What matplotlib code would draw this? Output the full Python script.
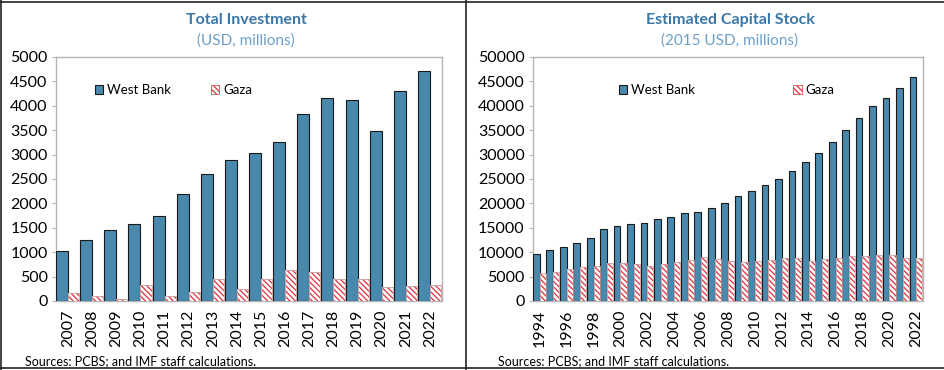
import matplotlib
matplotlib.use('Agg')
import matplotlib.pyplot as plt
from matplotlib.lines import Line2D
import numpy as np

plt.rcParams['font.family'] = ['Lato', 'DejaVu Sans']
plt.rcParams['hatch.linewidth'] = 0.9

# Total investment (USD, millions)
anos_inv = list(range(2007, 2023))
inv_west_bank = [1025, 1250, 1448, 1578, 1749, 2186, 2602, 2889, 3040, 3258,
                 3832, 4160, 4119, 3477, 4296, 4706]
inv_gaza = [171, 109, 41, 321, 109, 191, 451, 253, 451, 628,
            587, 451, 451, 287, 307, 328]

# Estimated capital stock (2015 USD, millions)
anos_cap = list(range(1994, 2023))
cap_west_bank = [9690, 10370, 10980, 11870, 12960, 14730, 15350, 15830, 16030, 16710,
                 17260, 17940, 18210, 19030, 19990, 21490, 22510, 23670, 24970, 26670,
                 28450, 30420, 32610, 35060, 37590, 40040, 41540, 43720, 45980]
cap_gaza = [5660, 5940, 6480, 6890, 7230, 7710, 7710, 7500, 7230, 7640,
            7910, 8320, 9070, 8530, 8120, 7910, 8120, 8320, 8730, 8730,
            8250, 8530, 8800, 9140, 9280, 9480, 9410, 8800, 8870]

AZUL = '#4a89ae'
VERMELHO = '#e0303a'
TITULO = '#3a77a9'
SUBTITULO = '#6d9fca'
CINZA = '#b4b4b4'
HATCH = '\\' * 6

fig = plt.figure(figsize=(9.45, 3.7), dpi=100)
W, H = 945, 370


def painel(rect, anos, wb, gz, ymax, ystep, passo_label, titulo, subtitulo, tx,
           leg_x, colspace):
    ax = fig.add_axes(rect)
    x = np.arange(len(anos))
    ax.bar(x - 0.25, wb, width=0.5, color=AZUL, edgecolor='#1a1a1a', linewidth=0.8,
           zorder=3)
    ax.bar(x + 0.23, gz, width=0.46, color='white', edgecolor=VERMELHO, hatch=HATCH,
           linewidth=0, zorder=3)
    ax.bar(x + 0.23, gz, width=0.46, color='none', edgecolor='#c8a0a0', linewidth=0.6,
           zorder=4)
    ax.set_xlim(-0.5, len(anos) - 0.5)
    ax.set_ylim(0, ymax)
    ax.set_yticks(np.arange(0, ymax + 1, ystep))
    ax.set_xticks(x[::passo_label])
    ax.set_xticklabels([str(a) for a in anos[::passo_label]], rotation=90)
    ax.tick_params(axis='x', length=0, pad=6, labelsize=11.5)
    ax.tick_params(axis='y', length=3, color=CINZA, pad=3, labelsize=11.5)
    for s in ax.spines.values():
        s.set_color(CINZA)
        s.set_linewidth(1.0)

    handles = [
        plt.Rectangle((0, 0), 1, 1, facecolor=AZUL, edgecolor='#1a1a1a', linewidth=0.8),
        plt.Rectangle((0, 0), 1, 1, facecolor='white', edgecolor=VERMELHO, hatch=HATCH,
                      linewidth=0.5),
    ]
    ax.legend(handles, ['West Bank', 'Gaza'], ncol=2, frameon=False, fontsize=9.5,
              loc='center left', bbox_to_anchor=(leg_x, 0.865), handlelength=0.65,
              handleheight=0.65, handletextpad=0.3, columnspacing=colspace,
              borderpad=0, borderaxespad=0)

    fig.text(tx / W, 1 - 20 / H, titulo, ha='center', va='center', fontsize=11.5,
             fontweight='bold', color=TITULO)
    fig.text(tx / W, 1 - 41 / H, subtitulo, ha='center', va='center', fontsize=11,
             color=SUBTITULO)
    return ax


painel([56 / W, 1 - 301 / H, 386 / W, 244 / H], anos_inv, inv_west_bank, inv_gaza,
       5000, 500, 1, 'Total Investment', '(USD, millions)', 246, 0.1, 3.0)
painel([533 / W, 1 - 301 / H, 390 / W, 244 / H], anos_cap, cap_west_bank, cap_gaza,
       50000, 5000, 2, 'Estimated Capital Stock', '(2015 USD, millions)', 730, 0.22, 7.4)

fig.text(25 / W, 1 - 361 / H, 'Sources: PCBS; and IMF staff calculations.', ha='left',
         va='center', fontsize=9)
fig.text(498 / W, 1 - 361 / H, 'Sources: PCBS; and IMF staff calculations.', ha='left',
         va='center', fontsize=9)

# Molduras
for xs, ys in [([0, 1], [1 - 1.5 / H] * 2), ([0, 1], [1 - 368 / H] * 2),
               ([1.5 / W] * 2, [0, 1]), ([466.5 / W] * 2, [0, 1])]:
    fig.add_artist(Line2D(xs, ys, color='#222222', linewidth=1.2,
                          transform=fig.transFigure))

fig.savefig('out.png', dpi=100)
